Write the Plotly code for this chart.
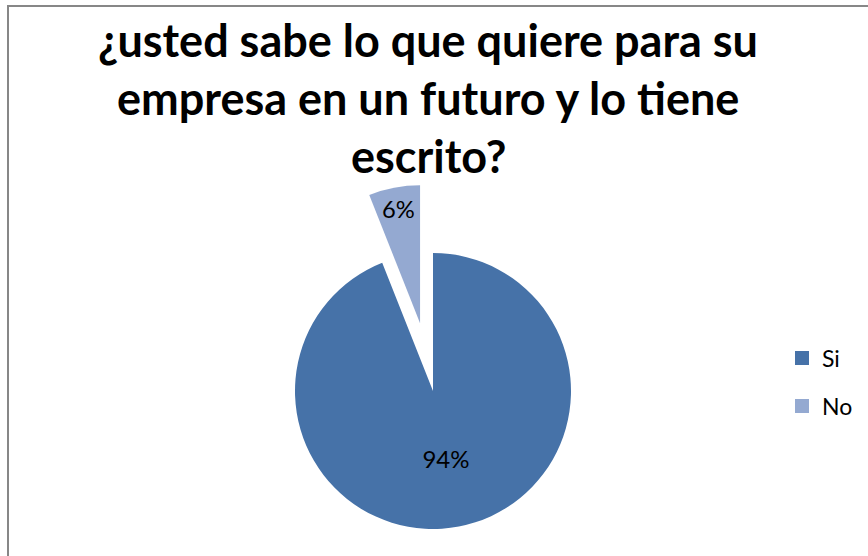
import math
import plotly.graph_objects as go

# Survey answers
labels = ["Si", "No"]
values = [94, 6]
colors = ["#4672A8", "#94A9D1"]

TITLE_LINES = [
    "¿usted sabe lo que quiere para su",
    "empresa en un futuro y lo tiene",
    "escrito?",
]

W, H = 868, 556
FONT = "Lato"
CX, CY, R = 433, 391, 138      # pie centre / radius in pixels
PULL = 0.5                     # exploded distance of "No", fraction of R
EXPLODED = 1                   # index of the exploded slice
TITLE_SIZE = 45

total = sum(values)


def domain(cx, cy, r):
    return dict(x=[(cx - r) / W, (cx + r) / W],
                y=[(H - (cy + r)) / H, (H - (cy - r)) / H])


# mid-angle of each slice, clockwise from 12 o'clock
mids, start = [], 0.0
for v in values:
    span = 360.0 * v / total
    mids.append(start + span / 2)
    start += span
a = math.radians(mids[EXPLODED])
ex_cx = CX + PULL * R * math.sin(a)
ex_cy = CY - PULL * R * math.cos(a)


def pie_layer(idx, dom):
    return go.Pie(
        labels=labels, values=values, sort=False,
        direction="clockwise", rotation=0,
        marker=dict(colors=[c if i == idx else "rgba(0,0,0,0)" for i, c in enumerate(colors)],
                    line=dict(width=0)),
        texttemplate=["%{percent:.0%}" if i == idx else "" for i in range(len(values))],
        textposition="inside", insidetextorientation="horizontal",
        textfont=dict(family=FONT, size=24, color="black"),
        domain=dom, showlegend=False, hoverinfo="label+percent",
    )


fig = go.Figure()
fig.add_trace(pie_layer(0, domain(CX, CY, R)))
fig.add_trace(pie_layer(EXPLODED, domain(ex_cx, ex_cy, R)))

# legend entries
for lab, col, leg in zip(labels, colors, ["legend", "legend2"]):
    fig.add_trace(go.Scatter(x=[None], y=[None], mode="markers", name=lab,
                             marker=dict(symbol="square", size=14, color=col),
                             legend=leg, hoverinfo="skip"))

legend_style = dict(font=dict(family=FONT, size=23, color="black"),
                    bgcolor="rgba(0,0,0,0)", borderwidth=0,
                    xanchor="left", yanchor="middle")

title_baselines = [60, 118, 176]
annotations = []
for line, base in zip(TITLE_LINES, title_baselines):
    annotations.append(dict(text="<b>%s</b>" % line, x=428 / W,
                            y=(H - base + 0.45 * TITLE_SIZE) / H,
                            xref="paper", yref="paper", showarrow=False,
                            xanchor="center", yanchor="middle",
                            font=dict(family=FONT, size=TITLE_SIZE, color="black")))

fig.update_layout(
    width=W, height=H,
    margin=dict(l=0, r=0, t=0, b=0),
    paper_bgcolor="white", plot_bgcolor="white",
    xaxis=dict(visible=False), yaxis=dict(visible=False),
    legend=dict(x=782 / W, y=(H - 358) / H, **legend_style),
    legend2=dict(x=782 / W, y=(H - 406) / H, **legend_style),
    annotations=annotations,
    shapes=[dict(type="rect", xref="paper", yref="paper",
                 x0=8 / W, x1=1.05, y0=-0.05, y1=(H - 6) / H,
                 line=dict(color="#878787", width=2), fillcolor="rgba(0,0,0,0)")],
)

fig.write_html("out.html")
